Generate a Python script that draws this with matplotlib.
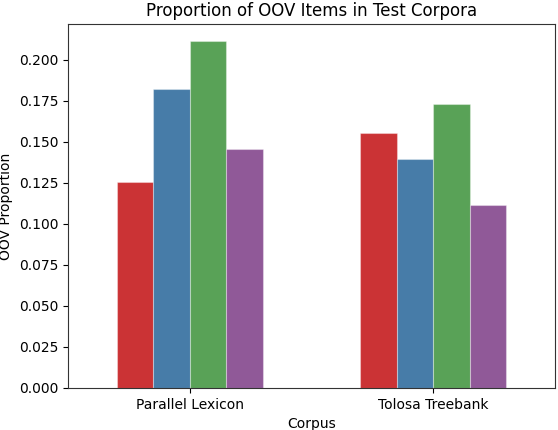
import colorsys
import matplotlib
matplotlib.use("Agg")
import matplotlib.pyplot as plt
import matplotlib.colors as mcolors
import numpy as np

corpora = ["Parallel Lexicon", "Tolosa Treebank"]
series_values = [
    [0.1255, 0.1553],
    [0.1824, 0.1398],
    [0.2112, 0.1733],
    [0.1458, 0.1115],
]
base_colors = ["#e41a1c", "#377eb8", "#4daf4a", "#984ea3"]


def desat(c, prop=0.75):
    r, g, b = mcolors.to_rgb(c)
    h, l, s = colorsys.rgb_to_hls(r, g, b)
    return colorsys.hls_to_rgb(h, l, s * prop)


colors = [desat(c) for c in base_colors]

fig = plt.figure(figsize=(5.58, 4.30), dpi=100)
ax = fig.add_axes([0.1219, 0.0977, 0.8727, 0.8465])

n = len(series_values)
width = 0.6 / n
x = np.arange(len(corpora))
for i, vals in enumerate(series_values):
    offs = (i - (n - 1) / 2) * width
    ax.bar(x + offs, vals, width=width, color=colors[i],
           edgecolor=(1, 1, 1, 0.35), linewidth=0.8)

ax.set_xlim(-0.5, len(corpora) - 0.5)
ax.set_xticks(x)
ax.set_xticklabels(corpora)
ax.set_xlabel("Corpus")
ax.set_ylabel("OOV Proportion")
ax.set_title("Proportion of OOV Items in Test Corpora")
ax.set_ylim(0, max(max(v) for v in series_values) * 1.05)
ax.yaxis.set_major_locator(matplotlib.ticker.MultipleLocator(0.025))
ax.yaxis.set_major_formatter(matplotlib.ticker.FormatStrFormatter("%.3f"))
for s in ax.spines.values():
    s.set_color("#333333")

fig.savefig("out.png", dpi=100)
